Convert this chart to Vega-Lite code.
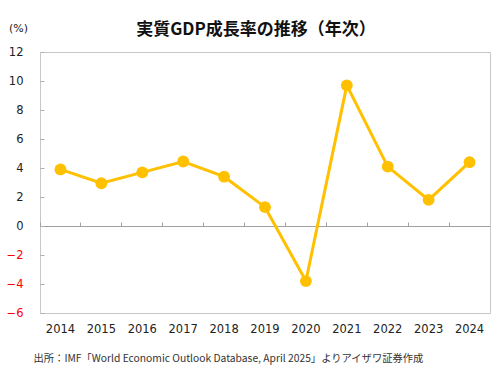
{
  "$schema": "https://vega.github.io/schema/vega-lite/v6.json",
  "autosize": {"type": "none"},
  "padding": {"left": 40, "top": 52, "right": 10, "bottom": 70},
  "width": 450,
  "height": 261,
  "background": "white",
  "config": {
    "view": {"stroke": "#c8c8c8", "strokeWidth": 1},
    "font": "DejaVu Sans",
    "axis": {"labelOverlap": false},
    "axisY": {"labelOverlap": false}
  },
  "title": {
    "text": "実質GDP成長率の推移（年次）",
    "font": "Noto Sans CJK JP",
    "fontSize": 17,
    "fontWeight": "bold",
    "color": "#111111",
    "anchor": "middle",
    "dx": -9,
    "offset": -17
  },
  "data": {
    "values": [
      {"year": "2014", "value": 3.9},
      {"year": "2015", "value": 2.95},
      {"year": "2016", "value": 3.7},
      {"year": "2017", "value": 4.45},
      {"year": "2018", "value": 3.4},
      {"year": "2019", "value": 1.3},
      {"year": "2020", "value": -3.8},
      {"year": "2021", "value": 9.7},
      {"year": "2022", "value": 4.1},
      {"year": "2023", "value": 1.8},
      {"year": "2024", "value": 4.4}
    ]
  },
  "resolve": {"axis": {"x": "independent"}},
  "layer": [
    {
      "mark": {"type": "line", "color": "#FFC000", "strokeWidth": 3},
      "encoding": {
        "x": {
          "field": "year",
          "type": "ordinal",
          "scale": {"type": "band", "paddingInner": 0, "paddingOuter": 0},
          "axis": {
            "orient": "bottom",
            "labelAngle": 0,
            "labelFont": "DejaVu Sans",
            "labelFontSize": 11.5,
            "labelColor": "#222222",
            "labelPadding": 10,
            "labelBaseline": "top",
            "labelOverlap": false,
            "ticks": false,
            "domain": false,
            "grid": false,
            "title": "出所：IMF「World Economic Outlook Database, April 2025」よりアイザワ証券作成",
            "titleFont": "Noto Sans CJK JP",
            "titleFontSize": 10.3,
            "titleFontWeight": "normal",
            "titleColor": "#333333",
            "titleAnchor": "start",
            "titleAlign": "left",
            "titleBaseline": "middle",
            "titleX": -7,
            "titleY": 45
          }
        },
        "y": {
          "field": "value",
          "type": "quantitative",
          "scale": {"domain": [-6, 12], "nice": false, "zero": false},
          "axis": {
            "values": [-6, -4, -2, 0, 2, 4, 6, 8, 10, 12],
            "grid": false,
            "domain": false,
            "ticks": true,
            "tickSize": -4,
            "tickColor": "#b0b0b0",
            "labelFont": "DejaVu Sans",
            "labelFontSize": 11.5,
            "labelPadding": 21,
            "labelBaseline": "middle",
            "labelOverlap": false,
            "labelColor": {"condition": {"test": "datum.value < 0", "value": "#ff0000"}, "value": "#222222"},
            "title": "(%)",
            "titleFont": "DejaVu Sans",
            "titleFontSize": 11,
            "titleFontWeight": "normal",
            "titleColor": "#222222",
            "titleAngle": 0,
            "titleAlign": "center",
            "titleBaseline": "middle",
            "titleX": -22,
            "titleY": -24
          }
        }
      }
    },
    {
      "mark": {"type": "point", "filled": true, "color": "#FFC000", "size": 140, "opacity": 1},
      "encoding": {
        "x": {
          "field": "year",
          "type": "ordinal",
          "axis": {
            "orient": "bottom",
            "offset": -87,
            "labels": false,
            "ticks": true,
            "tickSize": -4,
            "tickColor": "#a0a0a0",
            "bandPosition": 0,
            "domain": true,
            "domainColor": "#a0a0a0",
            "grid": false,
            "title": null
          }
        },
        "y": {
          "field": "value",
          "type": "quantitative",
          "axis": {
            "values": [-6, -4, -2, 0, 2, 4, 6, 8, 10, 12],
            "grid": false,
            "domain": false,
            "ticks": true,
            "tickSize": -4,
            "tickColor": "#b0b0b0",
            "labelFont": "DejaVu Sans",
            "labelFontSize": 11.5,
            "labelPadding": 21,
            "labelBaseline": "middle",
            "labelOverlap": false,
            "labelColor": {"condition": {"test": "datum.value < 0", "value": "#ff0000"}, "value": "#222222"},
            "title": "(%)",
            "titleFont": "DejaVu Sans",
            "titleFontSize": 11,
            "titleFontWeight": "normal",
            "titleColor": "#222222",
            "titleAngle": 0,
            "titleAlign": "center",
            "titleBaseline": "middle",
            "titleX": -22,
            "titleY": -24
          }
        }
      }
    }
  ]
}
